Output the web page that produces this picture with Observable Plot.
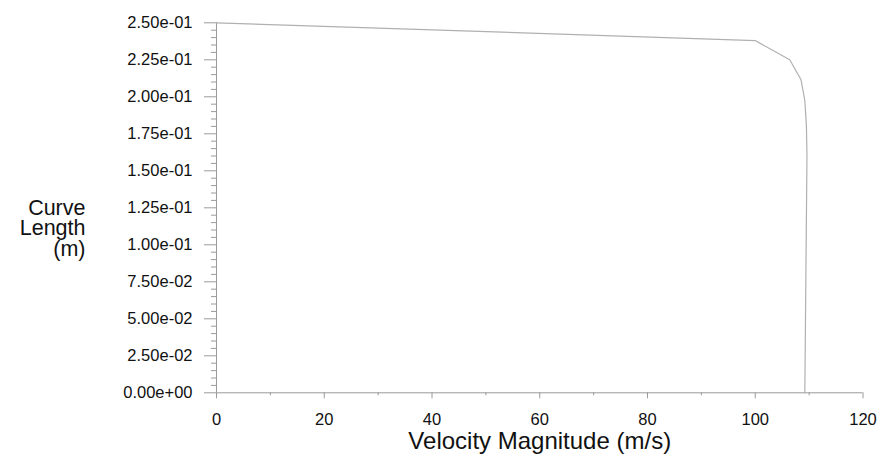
<!DOCTYPE html>
<html>
<head>
<meta charset="utf-8">
<script src="https://cdn.jsdelivr.net/npm/d3@7"></script>
<script src="https://cdn.jsdelivr.net/npm/@observablehq/plot@0.6"></script>
<style>
  html, body { margin: 0; padding: 0; background: #fff; }
</style>
</head>
<body>
<div id="chart"></div>
<script>
// Data
const velocity    = [0, 100.0, 106.4, 108.5, 109.2, 109.5, 109.6, 109.4, 109.2];
const curveLength = [0.2500, 0.2380, 0.2250, 0.2115, 0.1975, 0.1800, 0.1600, 0.0800, 0.0000];

const xTicks = [0, 20, 40, 60, 80, 100, 120];
const yTicks = [0, 0.025, 0.05, 0.075, 0.1, 0.125, 0.15, 0.175, 0.2, 0.225, 0.25];
const xLabel = "Velocity Magnitude (m/s)";
const yLabel = "Curve\nLength\n(m)";

const xMinor = [10, 30, 50, 70, 90, 110];
const yMinor = d3.range(0, 0.2501, 0.005).filter(v => Math.abs(Math.round(v / 0.025) * 0.025 - v) > 1e-6);

const data = velocity.map((v, i) => ({x: v, y: curveLength[i]}));
const fmt = d => d.toExponential(2).replace(/e([+-])(\d)$/, "e$10$2");

const axisColor = "#9a9a9a";
const textColor = "#111111";

const chart = Plot.plot({
  width: 880,
  height: 459,
  marginLeft: 216,
  marginRight: 17.5,
  marginTop: 22.3,
  marginBottom: 66.7,
  style: {fontFamily: "'Liberation Sans', Arial, sans-serif", background: "#fff"},
  x: {domain: [0, 120]},
  y: {domain: [0, 0.25]},
  marks: [
    Plot.axisY(yMinor, {tickSize: 5, tickFormat: () => "", label: null, stroke: axisColor}),
    Plot.axisY(yTicks, {tickSize: 12, tickPadding: 12, tickFormat: fmt, label: null, fontSize: 16.5, stroke: axisColor, fill: textColor}),
    Plot.axisX(xMinor, {tickSize: 3, tickFormat: () => "", label: null, stroke: axisColor}),
    Plot.axisX(xTicks, {tickSize: 6, tickPadding: 14, tickFormat: d => String(d), label: null, fontSize: 16.5, stroke: axisColor, fill: textColor}),
    Plot.ruleY([0], {stroke: axisColor}),
    Plot.ruleX([0], {stroke: axisColor}),
    Plot.line(data, {x: "x", y: "y", stroke: "#b0b0b0", strokeWidth: 1.2}),
    Plot.text([xLabel], {frameAnchor: "bottom", dy: 49, fontSize: 24, fill: textColor, lineAnchor: "middle"}),
    Plot.text([yLabel], {frameAnchor: "left", dx: -131, dy: 21, textAnchor: "end", lineAnchor: "middle", lineHeight: 0.95, fontSize: 21.5, fill: textColor})
  ]
});
document.getElementById("chart").appendChild(chart);
</script>
</body>
</html>
